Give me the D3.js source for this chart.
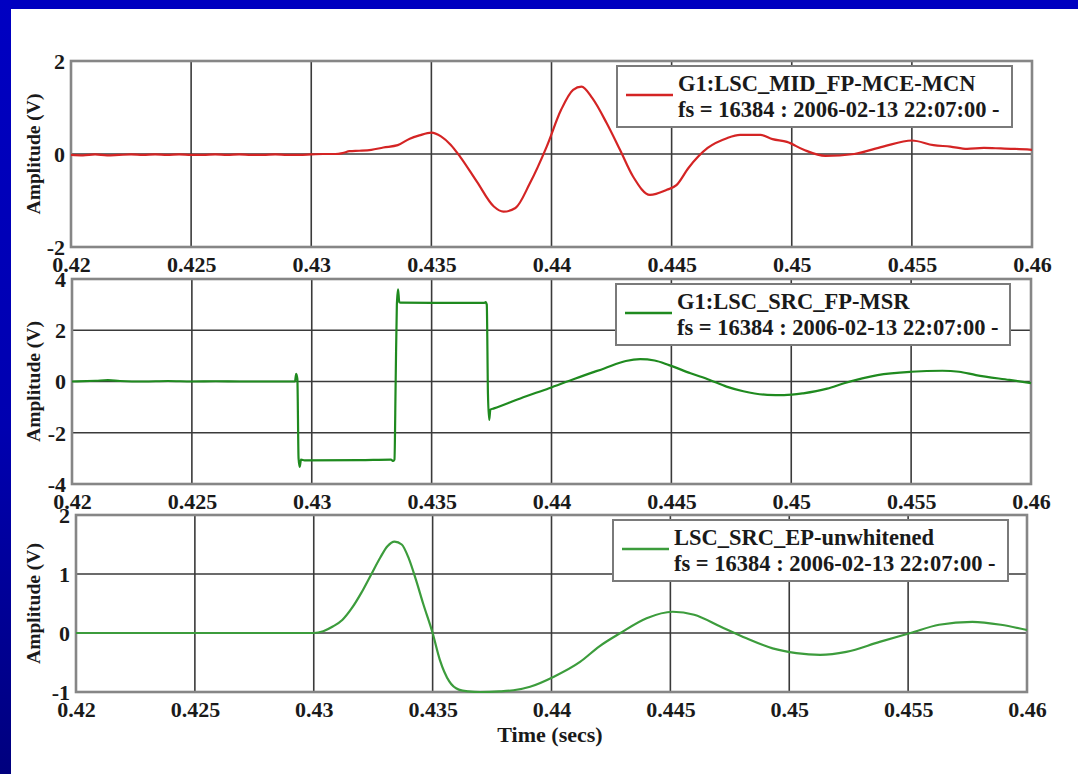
<!DOCTYPE html>
<html>
<head>
<meta charset="utf-8">
<script src="https://cdn.jsdelivr.net/npm/d3@7"></script>
<style>
  html, body { margin: 0; padding: 0; background: #ffffff; }
  svg { display: block; }
  text { font-family: "Liberation Serif", "Times New Roman", serif; font-weight: bold; fill: #1a1a1a; }
</style>
</head>
<body>
<svg id="chart" width="1078" height="774"></svg>
<script>
// Shared time axis
const timeTicks = [0.42, 0.425, 0.43, 0.435, 0.44, 0.445, 0.45, 0.455, 0.46];
const timeTickLabels = ["0.42", "0.425", "0.43", "0.435", "0.44", "0.445", "0.45", "0.455", "0.46"];

// Channel 1: G1:LSC_MID_FP-MCE-MCN
const midTimes = [0.420, 0.4205, 0.421, 0.4215, 0.422, 0.4225, 0.423, 0.4235, 0.424, 0.4245,
  0.425, 0.4255, 0.426, 0.4265, 0.427, 0.4275, 0.428, 0.4285, 0.429, 0.4295,
  0.430, 0.4305, 0.4310, 0.4313, 0.4316, 0.4320, 0.4325, 0.4330, 0.4336, 0.4341,
  0.4345, 0.4350, 0.4354, 0.4358, 0.4362, 0.4369, 0.4376, 0.4380, 0.4385, 0.4391,
  0.4398, 0.4404, 0.4409, 0.44125, 0.4417, 0.4423, 0.44285, 0.4434, 0.4441, 0.4448,
  0.4452, 0.4457, 0.4465, 0.4473, 0.44785, 0.4487, 0.4492, 0.4498, 0.4505, 0.4514,
  0.4526, 0.4538, 0.4550, 0.4559, 0.4566, 0.4573, 0.4580, 0.4587, 0.4593, 0.4600];
const midValues = [-0.02, -0.03, -0.01, -0.03, -0.02, -0.01, -0.02, -0.01, -0.02, -0.01,
  -0.02, -0.02, -0.01, -0.02, -0.01, -0.02, -0.02, -0.01, -0.02, -0.02,
  -0.01, 0.0, 0.0, 0.02, 0.06, 0.07, 0.09, 0.14, 0.19, 0.33,
  0.40, 0.46, 0.38, 0.20, -0.06, -0.60, -1.13, -1.24, -1.16, -0.63,
  0.16, 0.95, 1.38, 1.45, 1.20, 0.66, 0.09, -0.49, -0.88, -0.77,
  -0.67, -0.30, 0.13, 0.34, 0.41, 0.41, 0.32, 0.26, 0.09, -0.04,
  0.0, 0.16, 0.29, 0.19, 0.16, 0.11, 0.13, 0.12, 0.11, 0.09];

// Channel 2: G1:LSC_SRC_FP-MSR
const srcTimes = [0.420, 0.421, 0.4215, 0.422, 0.423, 0.424, 0.425, 0.426, 0.427, 0.428,
  0.429, 0.4293, 0.42935, 0.4294, 0.42945, 0.4295, 0.42955, 0.4297, 0.432, 0.4333,
  0.4334, 0.43345, 0.4335, 0.43355, 0.4336, 0.43365, 0.4337, 0.4350, 0.4372, 0.43725,
  0.4373, 0.43735, 0.4374, 0.43745, 0.4376, 0.4387, 0.4399, 0.4410, 0.4422, 0.4431,
  0.4437, 0.4443, 0.4449, 0.4458, 0.4466, 0.4473, 0.4480, 0.4490, 0.4497, 0.4505,
  0.4515, 0.4522, 0.4536, 0.4550, 0.4563, 0.4570, 0.4577, 0.4591, 0.4600];
const srcValues = [0.0, 0.03, 0.05, 0.02, 0.0, 0.02, 0.0, 0.01, 0.0, 0.0,
  0.0, 0.0, 0.30, 0.10, -3.00, -3.33, -3.05, -3.08, -3.07, -3.05,
  -3.10, -3.05, 0.0, 3.00, 3.60, 3.10, 3.08, 3.07, 3.07, 3.10,
  3.00, -0.50, -1.50, -1.10, -1.05, -0.66, -0.26, 0.12, 0.51, 0.80,
  0.87, 0.82, 0.64, 0.32, 0.06, -0.20, -0.38, -0.52, -0.53, -0.46,
  -0.28, -0.07, 0.25, 0.38, 0.42, 0.38, 0.25, 0.06, -0.06];

// Channel 3: LSC_SRC_EP-unwhitened
const epTimes = [0.420, 0.425, 0.430, 0.4304, 0.4308, 0.4312, 0.4316, 0.4320, 0.4324, 0.4328,
  0.4331, 0.4334, 0.4337, 0.4340, 0.4343, 0.4346, 0.4350, 0.4353, 0.4357, 0.4361,
  0.4365, 0.4370, 0.4378, 0.4384, 0.4391, 0.4401, 0.4412, 0.4420, 0.4429, 0.4440,
  0.4451, 0.4460, 0.4471, 0.4482, 0.4493, 0.4503, 0.4513, 0.4524, 0.4538, 0.4551,
  0.4563, 0.4577, 0.4589, 0.4600];
const epValues = [0.0, 0.0, 0.0, 0.03, 0.11, 0.22, 0.42, 0.68, 0.98, 1.28,
  1.47, 1.55, 1.50, 1.26, 0.90, 0.50, 0.0, -0.45, -0.82, -0.96,
  -0.99, -1.0, -0.99, -0.97, -0.91, -0.74, -0.49, -0.23, 0.0, 0.25,
  0.36, 0.31, 0.11, -0.09, -0.26, -0.34, -0.37, -0.32, -0.15, 0.0,
  0.14, 0.19, 0.14, 0.05];

const midYTicks = [-2, 0, 2];
const srcYTicks = [-4, -2, 0, 2, 4];
const epYTicks = [-1, 0, 1, 2];

const legendSubtitle = "fs = 16384 : 2006-02-13 22:07:00 -";

const svg = d3.select("#chart");

// Slide frame: blue band on top, shaded band on the left
const defs = svg.append("defs");
const grad = defs.append("linearGradient").attr("id", "sideBand")
  .attr("x1", 0).attr("y1", 0).attr("x2", 0).attr("y2", 1);
grad.append("stop").attr("offset", "0%").attr("stop-color", "#0000c2");
grad.append("stop").attr("offset", "55%").attr("stop-color", "#0000b0");
grad.append("stop").attr("offset", "100%").attr("stop-color", "#00007e");
svg.append("rect").attr("x", 0).attr("y", 0).attr("width", 1078).attr("height", 9).attr("fill", "#0000c0");
svg.append("rect").attr("x", 0).attr("y", 0).attr("width", 11).attr("height", 774).attr("fill", "url(#sideBand)");

const panels = [
  { times: midTimes, values: midValues, yTicks: midYTicks, domain: [-2, 2],
    left: 71, right: 1032, top: 61, bottom: 247, color: "#d42424", curve: d3.curveMonotoneX,
    name: "G1:LSC_MID_FP-MCE-MCN", legendX: 617, legendW: 395 },
  { times: srcTimes, values: srcValues, yTicks: srcYTicks, domain: [-4, 4],
    left: 72, right: 1031, top: 279, bottom: 484, color: "#1f8a1f", curve: d3.curveMonotoneX,
    name: "G1:LSC_SRC_FP-MSR", legendX: 616, legendW: 394 },
  { times: epTimes, values: epValues, yTicks: epYTicks, domain: [-1, 2],
    left: 76, right: 1027, top: 515, bottom: 692, color: "#3c9c3c", curve: d3.curveMonotoneX,
    name: "LSC_SRC_EP-unwhitened", legendX: 613, legendW: 395 }
];

panels.forEach(p => {
  const x = d3.scaleLinear().domain([0.42, 0.46]).range([p.left, p.right]);
  const y = d3.scaleLinear().domain(p.domain).range([p.bottom, p.top]);
  const g = svg.append("g");

  // grid
  g.append("g").selectAll("line").data(timeTicks.slice(1, -1)).join("line")
    .attr("x1", d => x(d)).attr("x2", d => x(d))
    .attr("y1", p.top).attr("y2", p.bottom)
    .attr("stroke", "#3a3a3a").attr("stroke-width", 1.6);
  g.append("g").selectAll("line").data(p.yTicks.slice(1, -1)).join("line")
    .attr("x1", p.left).attr("x2", p.right)
    .attr("y1", d => y(d)).attr("y2", d => y(d))
    .attr("stroke", "#3a3a3a").attr("stroke-width", 1.6);

  // frame
  g.append("rect").attr("x", p.left).attr("y", p.top)
    .attr("width", p.right - p.left).attr("height", p.bottom - p.top)
    .attr("fill", "none").attr("stroke", "#868686").attr("stroke-width", 2.6);

  // axes (labels only; the frame and grid carry the lines)
  const xAxis = d3.axisBottom(x).tickValues(timeTicks)
    .tickFormat((d, i) => timeTickLabels[i]).tickSize(0).tickPadding(9);
  const xa = g.append("g").attr("transform", `translate(0,${p.bottom})`).call(xAxis);
  xa.select(".domain").remove();
  xa.selectAll("text").attr("font-size", 22).attr("font-family", "Liberation Serif")
    .attr("font-weight", "bold").attr("fill", "#1a1a1a").attr("dy", "0.74em");

  const yAxis = d3.axisLeft(y).tickValues(p.yTicks).tickFormat(d3.format("d")).tickSize(0).tickPadding(6);
  const ya = g.append("g").attr("transform", `translate(${p.left},0)`).call(yAxis);
  ya.select(".domain").remove();
  ya.selectAll("text").attr("font-size", 22).attr("font-family", "Liberation Serif")
    .attr("font-weight", "bold").attr("fill", "#1a1a1a").attr("dy", "0.34em")
    .text(d => d < 0 ? "-" + Math.abs(d) : String(d));

  // y label
  g.append("text")
    .attr("transform", `translate(40,${(p.top + p.bottom) / 2}) rotate(-90)`)
    .attr("text-anchor", "middle").attr("font-size", 19.5).text("Amplitude (V)");

  // signal
  const line = d3.line().x((d, i) => x(p.times[i])).y(d => y(d)).curve(p.curve);
  g.append("path").datum(p.values).attr("d", line)
    .attr("fill", "none").attr("stroke", p.color).attr("stroke-width", 2.2)
    .attr("stroke-linejoin", "round");

  // legend
  const ly = p.top + 5;
  const lg = g.append("g").attr("transform", `translate(${p.legendX},${ly})`);
  lg.append("rect").attr("width", p.legendW).attr("height", 61)
    .attr("fill", "#ffffff").attr("stroke", "#7a7a7a").attr("stroke-width", 2);
  lg.append("line").attr("x1", 9).attr("x2", 56).attr("y1", 29).attr("y2", 29)
    .attr("stroke", p.color).attr("stroke-width", 2.4);
  lg.append("text").attr("x", 61).attr("y", 25).attr("font-size", 22.5).text(p.name);
  lg.append("text").attr("x", 61).attr("y", 51).attr("font-size", 22.5).text(legendSubtitle);
});

// x label
svg.append("text").attr("x", 550).attr("y", 742).attr("text-anchor", "middle")
  .attr("font-size", 22).text("Time (secs)");
</script>
</body>
</html>
